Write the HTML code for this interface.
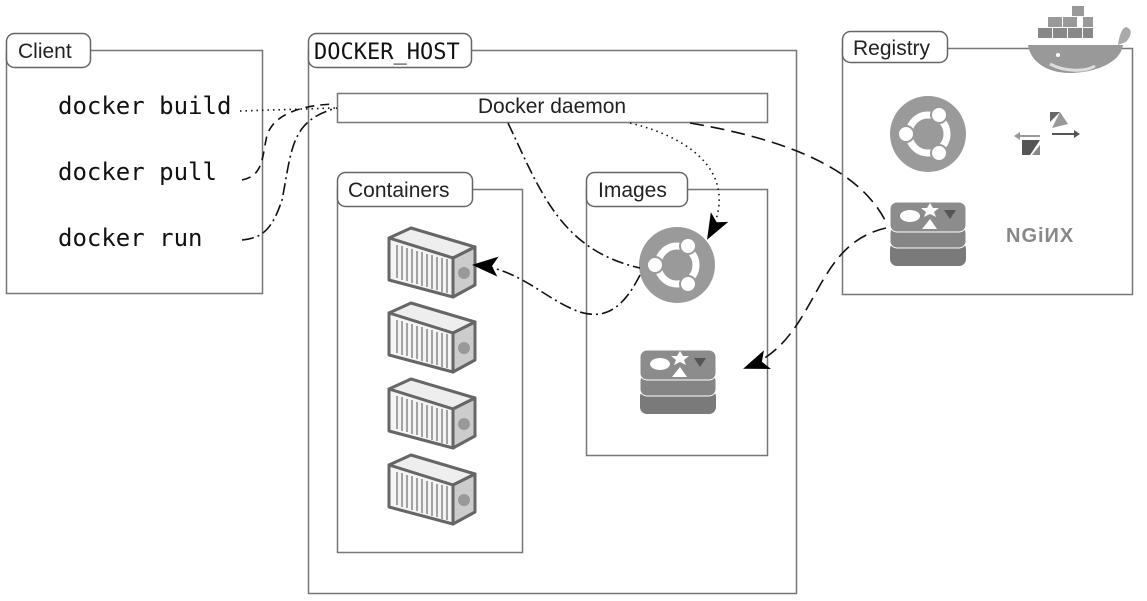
<!DOCTYPE html>
<html><head><meta charset="utf-8">
<style>
html,body{margin:0;padding:0;background:#fff;}
svg{display:block;}
.lbl{font-family:"Liberation Sans",sans-serif;font-size:21px;fill:#222;}
.mono{font-family:"DejaVu Sans Mono","Liberation Mono",monospace;fill:#111;}
</style></head>
<body>
<svg width="1147" height="601" viewBox="0 0 1147 601" xmlns="http://www.w3.org/2000/svg">
<defs>
<g id="cont">
  <polygon points="0,10 22,0 86,19 64,30" fill="#eee" stroke="#666" stroke-width="3" stroke-linejoin="round"/>
  <polygon points="0,10 64,30 64,69 0,52" fill="#f4f4f4" stroke="#666" stroke-width="3" stroke-linejoin="round"/>
  <polygon points="64,30 86,19 86,57 64,69" fill="#ccc" stroke="#666" stroke-width="3" stroke-linejoin="round"/>
  <g stroke="#777" stroke-width="1.3">
    <line x1="8" y1="17" x2="8" y2="50"/><line x1="13" y1="18" x2="13" y2="52"/><line x1="18" y1="20" x2="18" y2="53"/>
    <line x1="23" y1="21" x2="23" y2="55"/><line x1="28" y1="23" x2="28" y2="56"/><line x1="33" y1="24" x2="33" y2="58"/>
    <line x1="38" y1="26" x2="38" y2="59"/><line x1="43" y1="27" x2="43" y2="61"/><line x1="48" y1="29" x2="48" y2="62"/>
    <line x1="53" y1="30" x2="53" y2="64"/><line x1="58" y1="31" x2="58" y2="65"/>
  </g>
  <circle cx="75" cy="45" r="6" fill="#999"/>
</g>
<g id="ubu">
  <circle r="38" fill="#9a9a9a"/>
  <circle r="19" fill="none" stroke="#fff" stroke-width="7"/>
  <circle cx="-22" cy="0" r="8" fill="#fff" stroke="#9a9a9a" stroke-width="2"/>
  <circle cx="11" cy="-19" r="8" fill="#fff" stroke="#9a9a9a" stroke-width="2"/>
  <circle cx="11" cy="19" r="8" fill="#fff" stroke="#9a9a9a" stroke-width="2"/>
</g>
<g id="redis">
  <rect x="-38" y="8" width="76" height="24" rx="7" fill="#7a7a7a"/>
  <rect x="-38" y="-8" width="76" height="22" rx="7" fill="#858585" stroke="#fff" stroke-width="1"/>
  <rect x="-38" y="-32" width="76" height="30" rx="7" fill="#8c8c8c" stroke="#fff" stroke-width="1"/>
  <ellipse cx="-18" cy="-18" rx="10" ry="6" fill="#fff"/>
  <polygon points="2,-31 5,-26 11,-26 6,-22 8,-17 2,-20 -4,-17 -2,-22 -7,-26 -1,-26" fill="#fff"/>
  <polygon points="-6,-5 9,-5 2,-15" fill="#fff"/>
  <polygon points="16,-24 28,-24 22,-15" fill="#555"/>
</g>
<marker id="ah2" markerWidth="26" markerHeight="20" refX="24" refY="10" orient="auto" markerUnits="userSpaceOnUse">
  <path d="M0,0 L26,10 L0,20 L6,10 Z" fill="#000"/>
</marker>
</defs>

<!-- Client -->
<rect x="6.5" y="50.5" width="256" height="243" fill="none" stroke="#777" stroke-width="1.5"/>
<rect x="6.5" y="33.5" width="84" height="34" rx="8" fill="#fff" stroke="#666" stroke-width="1.5"/>
<text x="18" y="58" class="lbl">Client</text>
<text x="58" y="114" class="mono" font-size="24">docker build</text>
<text x="58" y="180" class="mono" font-size="24">docker pull</text>
<text x="58" y="246" class="mono" font-size="24">docker run</text>

<!-- Docker host -->
<rect x="308.5" y="50.5" width="488" height="543" fill="none" stroke="#777" stroke-width="1.5"/>
<rect x="308.5" y="33.5" width="163" height="34" rx="8" fill="#fff" stroke="#666" stroke-width="1.5"/>
<text x="314" y="59" class="mono" font-size="22">DOCKER_HOST</text>

<rect x="337.5" y="93.5" width="430" height="29" fill="#fff" stroke="#777" stroke-width="1.5"/>
<text x="552" y="113" class="lbl" font-size="15" text-anchor="middle">Docker daemon</text>

<rect x="337.5" y="189.5" width="185" height="363" fill="none" stroke="#777" stroke-width="1.5"/>
<rect x="337.5" y="172.5" width="135" height="34" rx="8" fill="#fff" stroke="#666" stroke-width="1.5"/>
<text x="348" y="197" class="lbl">Containers</text>

<rect x="586.5" y="189.5" width="181" height="266" fill="none" stroke="#777" stroke-width="1.5"/>
<rect x="586.5" y="172.5" width="101" height="34" rx="8" fill="#fff" stroke="#666" stroke-width="1.5"/>
<text x="598" y="197" class="lbl">Images</text>

<use href="#cont" x="389" y="228"/>
<use href="#cont" x="389" y="303"/>
<use href="#cont" x="389" y="379"/>
<use href="#cont" x="389" y="455"/>

<use href="#ubu" x="677" y="265"/>
<use href="#redis" x="678" y="382"/>

<!-- Registry -->
<rect x="842.5" y="48.5" width="290" height="246" fill="none" stroke="#777" stroke-width="1.5"/>
<rect x="842.5" y="31.5" width="105" height="31" rx="8" fill="#fff" stroke="#666" stroke-width="1.5"/>
<text x="853" y="55" class="lbl">Registry</text>
<!-- whale -->
<g>
  <path d="M1028,45 L1123,45 C1120,65 1090,73 1070,73 C1045,73 1030,60 1028,45 Z" fill="#999"/>
  <path d="M1118,45 C1120,30 1125,25 1128,28 C1132,30 1132,35 1126,42 Z" fill="#aaa"/>
  <rect x="1038" y="28" width="14" height="10" fill="#888"/>
  <rect x="1053" y="28" width="14" height="10" fill="#888"/>
  <rect x="1068" y="28" width="14" height="10" fill="#888"/>
  <rect x="1083" y="28" width="10" height="10" fill="#888"/>
  <rect x="1048" y="17" width="14" height="10" fill="#999"/>
  <rect x="1063" y="17" width="14" height="10" fill="#999"/>
  <rect x="1072" y="6" width="12" height="10" fill="#999"/>
  <rect x="1083" y="17" width="10" height="10" fill="#999"/>
  <path d="M1050,64 C1065,72 1085,72 1095,66" fill="none" stroke="#ddd" stroke-width="3"/>
  <circle cx="1058" cy="55" r="2" fill="#fff"/>
</g>
<use href="#ubu" x="928" y="134"/>
<g>
  <polygon points="1050,112 1060,112 1050,122" fill="#666"/>
  <polygon points="1060,112 1068,124 1052,128" fill="#999"/>
  <line x1="1052" y1="134" x2="1077" y2="134" stroke="#555" stroke-width="2"/>
  <polygon points="1080,134 1074,130 1074,138" fill="#555"/>
  <line x1="1017" y1="136" x2="1040" y2="136" stroke="#999" stroke-width="2"/>
  <polygon points="1014,136 1020,132 1020,140" fill="#999"/>
  <polygon points="1022,140 1040,140 1030,155 1022,155" fill="#555"/>
  <polygon points="1040,145 1040,155 1032,155" fill="#888"/>
</g>
<use href="#redis" x="928" y="234"/>
<text x="1006" y="242" font-family="Liberation Sans,sans-serif" font-size="20" font-weight="bold" fill="#888" letter-spacing="1">NGiИX</text>

<!-- connectors -->
<g fill="none" stroke="#111" stroke-width="1.6">
  <path d="M240,111 L335,108" stroke-dasharray="1.5 4"/>
  <path d="M242,180 C262,176 262,160 266,140 C270,115 300,105 335,104" stroke-dasharray="9 6"/>
  <path d="M242,240 C262,238 272,230 282,200 C292,150 290,120 337,108" stroke-dasharray="12 4 2 4"/>
  <path d="M508,123 C540,190 560,250 640,268" stroke-dasharray="12 4 2 4"/>
  <path d="M640,275 C620,315 600,318 580,312 C545,300 520,268 474,265" stroke-dasharray="12 4 2 4" marker-end="url(#ah2)"/>
  <path d="M630,123 C700,140 740,180 708,238" stroke-dasharray="1.5 4" marker-end="url(#ah2)"/>
  <path d="M690,123 C790,140 860,170 886,222" stroke-dasharray="14 7"/>
  <path d="M886,228 C810,245 820,340 745,368" stroke-dasharray="14 7" marker-end="url(#ah2)"/>
</g>
</svg>
</body></html>
